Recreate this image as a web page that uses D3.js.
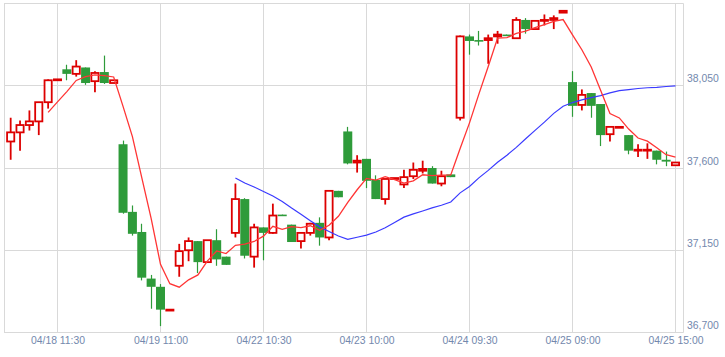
<!DOCTYPE html>
<html>
<head>
<meta charset="utf-8">
<script src="https://cdn.jsdelivr.net/npm/d3@7"></script>
<style>
  html, body { margin: 0; padding: 0; background: #ffffff; }
  svg { display: block; }
  text { font-family: "Liberation Sans", Arial, sans-serif; }
</style>
</head>
<body>
<div id="chart"></div>
<script>
// ---- data ----
const days  = ["04/18", "04/19", "04/22", "04/23", "04/24", "04/25"];
const times = ["09:00", "09:30", "10:00", "10:30", "11:00", "11:30",
               "12:30", "13:00", "13:30", "14:00", "14:30", "15:00"];
const categories = days.flatMap(d => times.map(t => d + " " + t));

const open  = [37745,37795,37835,37855,37960,38080,38140,38115,38150,38075,38125,38065,
               37730,37360,37250,36995,36950,36820,37065,37150,37200,37085,37205,37115,
               37245,37430,37115,37275,37245,37345,37290,37200,37245,37300,37220,37475,
               37800,37630,37650,37535,37430,37540,37510,37555,37585,37600,37515,37565,
               37875,38320,38300,38300,38320,38330,38310,38410,38360,38405,38410,38450,
               38070,37945,38010,37950,37785,37820,37780,37695,37695,37695,37645,37615];
const high  = [37875,37860,37915,37960,38085,38085,38165,38190,38150,38130,38215,38080,
               37750,37395,37295,37015,36965,36825,37185,37220,37200,37205,37265,37115,
               37515,37435,37295,37275,37405,37345,37290,37245,37300,37330,37475,37475,
               37825,37670,37650,37560,37540,37545,37590,37630,37640,37610,37585,37565,
               38325,38330,38350,38330,38350,38330,38425,38420,38405,38440,38435,38460,
               38130,38030,38010,37950,37825,37825,37780,37730,37735,37695,37690,37630];
const low   = [37645,37695,37805,37780,37925,38080,38080,38100,38055,38015,38060,38065,
               37350,37230,36985,36830,36735,36820,37005,37090,37025,37085,37065,37070,
               37220,37105,37055,37095,37240,37340,37195,37160,37230,37175,37205,37440,
               37620,37575,37490,37430,37400,37540,37490,37540,37570,37515,37500,37550,
               37860,38220,38270,38170,38280,38325,38310,38335,38360,38380,38360,38450,
               37880,37915,37875,37720,37745,37820,37675,37660,37650,37620,37610,37615];
const close = [37795,37835,37855,37960,38080,38085,38115,38155,38065,38120,38065,38080,
               37355,37240,37000,36950,36825,36825,37145,37200,37085,37205,37100,37070,
               37430,37120,37275,37245,37340,37340,37195,37245,37295,37220,37475,37440,
               37625,37640,37530,37430,37540,37545,37550,37590,37595,37515,37555,37550,
               38320,38295,38295,38310,38330,38325,38410,38360,38405,38410,38420,38460,
               37940,38000,37940,37780,37825,37825,37695,37700,37700,37645,37635,37630];

// red average line (starts at the 5th bar)
const maShort = [null,null,null,null,
               37904,37962,38018,38079,38100,38109,38105,38098,
               37937,37772,37547,37324,37073,36967,36948,36988,37015,37091,37146,37132,
               37177,37184,37198,37227,37281,37264,37279,37274,37284,37259,37287,37336,
               37412,37481,37543,37534,37553,37536,37517,37530,37563,37558,37561,37562,
               37707,37847,38004,38155,38311,38313,38337,38349,38368,38385,38402,38412,
               38328,38247,38153,38025,37898,37874,37813,37764,37747,37711,37673,37660];
// blue average line (starts at the 25th bar)
const maLong = [null,null,null,null,null,null,null,null,null,null,null,null,
               null,null,null,null,null,null,null,null,null,null,null,null,
               37545,37518,37496,37471,37447,37417,37381,37347,37312,37278,37253,37228,
               37210,37221,37233,37250,37273,37302,37331,37349,37365,37382,37396,37414,
               37464,37499,37546,37587,37631,37670,37713,37760,37806,37851,37899,37938,
               37958,37973,37985,37996,38011,38023,38029,38035,38039,38041,38046,38049];

const yTicks = [36700, 37150, 37600, 38050];
const yMax = 38500;
const xTickLabels = ["04/18 11:30", "04/19 11:00", "04/22 10:30", "04/23 10:00",
                     "04/24 09:30", "04/25 09:00", "04/25 15:00"];

// ---- layout ----
const W = 725, H = 357;
const plotL = 4, plotR = 683, plotT = 3.5, plotB = 332.5;
const upColor = "#dd0000", downColor = "#2e9b3a";
const gridColor = "#d9d9d9", labelColor = "#7388ad";

const svg = d3.select("#chart").append("svg")
  .attr("width", W).attr("height", H);

const x = d3.scalePoint().domain(categories).range([10.68, 675.5]);
const y = d3.scaleLinear().domain([yTicks[0], yMax]).range([plotB, plotT]);
const snap = v => Math.floor(v) + 0.5;

// grid
const grid = svg.append("g").attr("stroke", gridColor).attr("stroke-width", 1).attr("fill", "none");
grid.selectAll("line.h").data(yTicks.concat([yMax])).join("line")
  .attr("x1", plotL).attr("x2", plotR + 0.5)
  .attr("y1", d => snap(y(d))).attr("y2", d => snap(y(d)));
grid.selectAll("line.v").data(xTickLabels).join("line")
  .attr("x1", d => snap(x(d))).attr("x2", d => snap(x(d)))
  .attr("y1", plotT).attr("y2", plotB);
grid.append("line").attr("x1", plotL + 0.5).attr("x2", plotL + 0.5).attr("y1", plotT).attr("y2", plotB);
grid.append("line").attr("x1", plotR + 0.5).attr("x2", plotR + 0.5).attr("y1", plotT).attr("y2", plotB);

// candles
const bars = categories.map((c, i) => ({c, o: open[i], h: high[i], l: low[i], cl: close[i], up: close[i] >= open[i]}));
const bw = 9, sw = 1.8;
const cg = svg.append("g");
cg.selectAll("line.wick").data(bars).join("line")
  .attr("x1", d => d.up ? x(d.c) : snap(x(d.c)))
  .attr("x2", d => d.up ? x(d.c) : snap(x(d.c)))
  .attr("y1", d => y(d.h)).attr("y2", d => y(d.l))
  .attr("stroke", d => d.up ? upColor : downColor)
  .attr("stroke-width", d => d.up ? sw : 1.2);
cg.selectAll("rect.body").data(bars).join("rect")
  .attr("x", d => d.up ? x(d.c) - bw / 2 + sw / 2 : x(d.c) - bw / 2)
  .attr("width", d => d.up ? bw - sw : bw)
  .attr("y", d => y(Math.max(d.o, d.cl)))
  .attr("height", d => Math.max(d.up ? 0.3 : 1.6, Math.abs(y(d.o) - y(d.cl))))
  .attr("fill", d => d.up ? "#ffffff" : downColor)
  .attr("stroke", d => d.up ? upColor : "none")
  .attr("stroke-width", sw);

// average lines
const lineGen = d3.line()
  .defined(d => d.v != null)
  .x(d => x(d.c)).y(d => y(d.v));
svg.append("path")
  .datum(categories.map((c, i) => ({c, v: maLong[i]})))
  .attr("d", lineGen).attr("fill", "none")
  .attr("stroke", "#3a3aff").attr("stroke-width", 1.2);
svg.append("path")
  .datum(categories.map((c, i) => ({c, v: maShort[i]})))
  .attr("d", lineGen).attr("fill", "none")
  .attr("stroke", "#ff3535").attr("stroke-width", 1.3);

// x axis labels
const xAxis = d3.axisBottom(x).tickValues(xTickLabels).tickSize(0).tickPadding(0);
const gx = svg.append("g").attr("transform", "translate(0, 335)").call(xAxis);
gx.select(".domain").remove();
gx.selectAll("text").attr("fill", labelColor).attr("font-size", "10.4px")
  .attr("dy", null).attr("y", 9);

// y axis labels
const yAxis = d3.axisRight(y).tickValues(yTicks).tickSize(0).tickPadding(0)
  .tickFormat(d3.format(","));
const gy = svg.append("g").attr("transform", "translate(687, 0)").call(yAxis);
gy.select(".domain").remove();
gy.selectAll("text").attr("fill", labelColor).attr("font-size", "10.4px")
  .attr("dy", null).attr("y", -4).attr("text-anchor", "start");
</script>
</body>
</html>
